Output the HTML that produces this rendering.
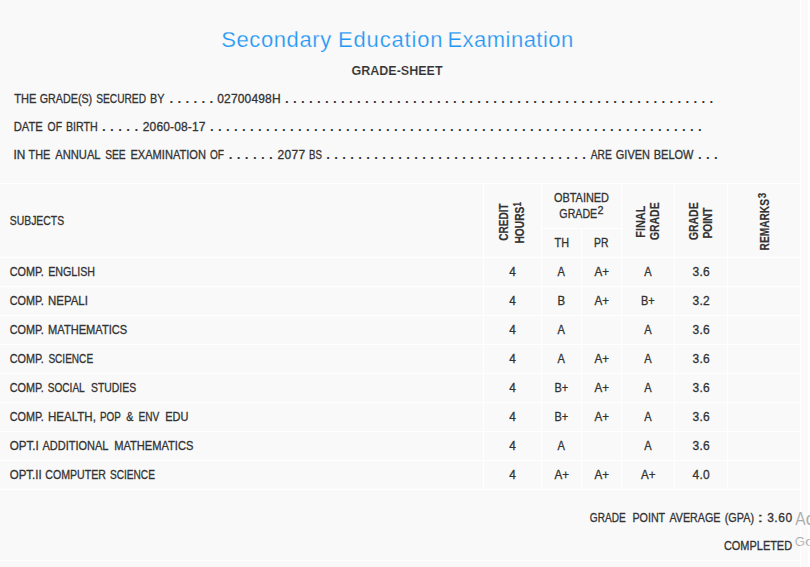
<!DOCTYPE html>
<html lang="en"><head><meta charset="utf-8"><title>Grade-Sheet</title>
<style>
html,body{margin:0;padding:0;}
body{width:810px;height:567px;overflow:hidden;position:relative;background:#f9f9f9;font-family:"Liberation Sans", sans-serif;}
.side{position:absolute;left:801px;top:0;width:7px;height:567px;background:#fafafa;}
.edge{position:absolute;left:808px;top:0;width:2px;height:567px;background:#ffffff;}
.l{position:absolute;}
.t{position:absolute;left:0;top:0;line-height:1;white-space:pre;transform-origin:0 0;word-spacing:0.6px;}
.t sup{font-size:85%;vertical-align:baseline;position:relative;top:-0.37em;line-height:0;}
</style></head><body>
<div class="side"></div><div class="edge"></div>
<div class="l" style="left:0px;top:183px;width:800px;height:1px;background:#ffffff"></div>
<div class="l" style="left:0px;top:257px;width:800px;height:1px;background:#ffffff"></div>
<div class="l" style="left:0px;top:286px;width:800px;height:1px;background:#ffffff"></div>
<div class="l" style="left:0px;top:315px;width:800px;height:1px;background:#ffffff"></div>
<div class="l" style="left:0px;top:344px;width:800px;height:1px;background:#ffffff"></div>
<div class="l" style="left:0px;top:373px;width:800px;height:1px;background:#ffffff"></div>
<div class="l" style="left:0px;top:402px;width:800px;height:1px;background:#ffffff"></div>
<div class="l" style="left:0px;top:431px;width:800px;height:1px;background:#ffffff"></div>
<div class="l" style="left:0px;top:460px;width:800px;height:1px;background:#ffffff"></div>
<div class="l" style="left:0px;top:489px;width:800px;height:1px;background:#ffffff"></div>
<div class="l" style="left:542px;top:228px;width:79px;height:1px;background:#ffffff"></div>
<div class="l" style="left:483px;top:183px;width:1px;height:307px;background:#ffffff"></div>
<div class="l" style="left:541px;top:183px;width:1px;height:307px;background:#ffffff"></div>
<div class="l" style="left:621px;top:183px;width:1px;height:307px;background:#ffffff"></div>
<div class="l" style="left:674px;top:183px;width:1px;height:307px;background:#ffffff"></div>
<div class="l" style="left:727px;top:183px;width:1px;height:307px;background:#ffffff"></div>
<div class="l" style="left:581px;top:228px;width:1px;height:262px;background:#ffffff"></div>
<div class="l" style="left:800px;top:0px;width:1px;height:567px;background:#ffffff"></div>
<div class="l" style="left:0px;top:560px;width:800px;height:1px;background:#ffffff"></div>
<span class="t" style="font-size:22px;font-weight:400;color:#2196f3;transform:translate(221.15px,28.80px) scaleX(1.0000);-webkit-text-stroke:0.25px #f9f9f9;letter-spacing:0.619px;">Secondary</span>
<span class="t" style="font-size:22px;font-weight:400;color:#2196f3;transform:translate(338.00px,28.80px) scaleX(1.0000);-webkit-text-stroke:0.25px #f9f9f9;letter-spacing:0.844px;">Education</span>
<span class="t" style="font-size:22px;font-weight:400;color:#2196f3;transform:translate(447.40px,28.80px) scaleX(1.0000);-webkit-text-stroke:0.25px #f9f9f9;letter-spacing:0.480px;">Examination</span>
<span class="t" style="font-size:13px;font-weight:700;color:#333333;transform:translate(351.48px,63.80px) scaleX(0.9632);-webkit-text-stroke:0.12px #f9f9f9;">GRADE-SHEET</span>
<span class="t" style="font-size:12px;font-weight:400;color:#333333;transform:translate(14.20px,92.80px) scaleX(0.9221);-webkit-text-stroke:0.3px #333333;">THE</span>
<span class="t" style="font-size:12px;font-weight:400;color:#333333;transform:translate(39.75px,92.80px) scaleX(0.8935);-webkit-text-stroke:0.3px #333333;">GRADE(S)</span>
<span class="t" style="font-size:12px;font-weight:400;color:#333333;transform:translate(96.28px,92.80px) scaleX(0.8468);-webkit-text-stroke:0.3px #333333;">SECURED</span>
<span class="t" style="font-size:12px;font-weight:400;color:#333333;transform:translate(149.92px,92.80px) scaleX(0.9049);-webkit-text-stroke:0.3px #333333;">BY</span>
<span class="t" style="font-size:12.5px;font-weight:700;color:#333333;transform:translate(169.50px,92.80px) scaleX(1.0633);">. . . . . .</span>
<span class="t" style="font-size:12px;font-weight:400;color:#333333;transform:translate(217.25px,92.80px) scaleX(1.0000);-webkit-text-stroke:0.3px #333333;letter-spacing:0.163px;">02700498H</span>
<span class="t" style="font-size:12.5px;font-weight:700;color:#333333;transform:translate(284.90px,92.80px) scaleX(1.0616);">. . . . . . . . . . . . . . . . . . . . . . . . . . . . . . . . . . . . . . . . . . . . . . . . . . . . . .</span>
<span class="t" style="font-size:12px;font-weight:400;color:#333333;transform:translate(13.70px,121.00px) scaleX(0.9333);-webkit-text-stroke:0.3px #333333;">DATE</span>
<span class="t" style="font-size:12px;font-weight:400;color:#333333;transform:translate(47.57px,121.00px) scaleX(0.8635);-webkit-text-stroke:0.3px #333333;">OF</span>
<span class="t" style="font-size:12px;font-weight:400;color:#333333;transform:translate(65.93px,121.00px) scaleX(0.8905);-webkit-text-stroke:0.3px #333333;">BIRTH</span>
<span class="t" style="font-size:12.5px;font-weight:700;color:#333333;transform:translate(101.89px,121.00px) scaleX(1.0813);">. . . . .</span>
<span class="t" style="font-size:12px;font-weight:400;color:#333333;transform:translate(142.80px,121.00px) scaleX(1.0000);-webkit-text-stroke:0.3px #333333;letter-spacing:0.133px;">2060-08-17</span>
<span class="t" style="font-size:12.5px;font-weight:700;color:#333333;transform:translate(209.90px,121.00px) scaleX(1.0605);">. . . . . . . . . . . . . . . . . . . . . . . . . . . . . . . . . . . . . . . . . . . . . . . . . . . . . . . . . . . . . .</span>
<span class="t" style="font-size:12px;font-weight:400;color:#333333;transform:translate(13.41px,148.80px) scaleX(0.9854);-webkit-text-stroke:0.3px #333333;">IN</span>
<span class="t" style="font-size:12px;font-weight:400;color:#333333;transform:translate(28.50px,148.80px) scaleX(0.9053);-webkit-text-stroke:0.3px #333333;">THE</span>
<span class="t" style="font-size:12px;font-weight:400;color:#333333;transform:translate(55.20px,148.80px) scaleX(0.9320);-webkit-text-stroke:0.3px #333333;">ANNUAL</span>
<span class="t" style="font-size:12px;font-weight:400;color:#333333;transform:translate(105.17px,148.80px) scaleX(0.8516);-webkit-text-stroke:0.3px #333333;">SEE</span>
<span class="t" style="font-size:12px;font-weight:400;color:#333333;transform:translate(130.41px,148.80px) scaleX(0.9234);-webkit-text-stroke:0.3px #333333;">EXAMINATION</span>
<span class="t" style="font-size:12px;font-weight:400;color:#333333;transform:translate(209.98px,148.80px) scaleX(0.8381);-webkit-text-stroke:0.3px #333333;">OF</span>
<span class="t" style="font-size:12.5px;font-weight:700;color:#333333;transform:translate(228.70px,148.80px) scaleX(1.0709);">. . . . . .</span>
<span class="t" style="font-size:12px;font-weight:400;color:#333333;transform:translate(277.50px,148.80px) scaleX(1.0000);-webkit-text-stroke:0.3px #333333;letter-spacing:0.350px;">2077</span>
<span class="t" style="font-size:12px;font-weight:400;color:#333333;transform:translate(309.00px,148.80px) scaleX(0.8067);-webkit-text-stroke:0.3px #333333;">BS</span>
<span class="t" style="font-size:12.5px;font-weight:700;color:#333333;transform:translate(326.20px,148.80px) scaleX(1.0606);">. . . . . . . . . . . . . . . . . . . . . . . . . . . . . . . . .</span>
<span class="t" style="font-size:12px;font-weight:400;color:#333333;transform:translate(590.70px,148.80px) scaleX(0.8536);-webkit-text-stroke:0.3px #333333;">ARE</span>
<span class="t" style="font-size:12px;font-weight:400;color:#333333;transform:translate(615.84px,148.80px) scaleX(0.9139);-webkit-text-stroke:0.3px #333333;">GIVEN</span>
<span class="t" style="font-size:12px;font-weight:400;color:#333333;transform:translate(653.71px,148.80px) scaleX(0.9170);-webkit-text-stroke:0.3px #333333;">BELOW</span>
<span class="t" style="font-size:12.5px;font-weight:700;color:#333333;transform:translate(697.90px,148.80px) scaleX(1.0647);">. . .</span>
<span class="t" style="font-size:12px;font-weight:400;color:#333333;transform:translate(9.77px,214.80px) scaleX(0.8664);-webkit-text-stroke:0.3px #333333;">SUBJECTS</span>
<span class="t" style="font-size:12px;font-weight:400;color:#333333;transform:translate(553.94px,191.90px) scaleX(0.9109);-webkit-text-stroke:0.3px #333333;">OBTAINED</span>
<span class="t" style="font-size:12px;font-weight:400;color:#333333;transform:translate(559.36px,208.00px) scaleX(0.8862);-webkit-text-stroke:0.3px #333333;">GRADE</span>
<span class="t" style="font-size:10.2px;font-weight:400;color:#333333;transform:translate(597.44px,206.30px) scaleX(1.0600);-webkit-text-stroke:0.3px #333333;">2</span>
<span class="t" style="font-size:12px;font-weight:400;color:#333333;transform:translate(554.50px,236.80px) scaleX(0.9049);-webkit-text-stroke:0.3px #333333;">TH</span>
<span class="t" style="font-size:12px;font-weight:400;color:#333333;transform:translate(594.05px,236.80px) scaleX(0.8645);-webkit-text-stroke:0.3px #333333;">PR</span>
<span class="t" style="font-size:12.5px;font-weight:700;color:#333333;transform:translate(498.10px,240.70px) rotate(-90deg) scaleX(0.8043);-webkit-text-stroke:0.18px #333333;">CREDIT</span>
<span class="t" style="font-size:12.5px;font-weight:700;color:#333333;transform:translate(514.10px,243.62px) rotate(-90deg) scaleX(0.8205);-webkit-text-stroke:0.18px #333333;">HOURS</span>
<span class="t" style="font-size:10.2px;font-weight:700;color:#333333;transform:translate(513.10px,206.39px) rotate(-90deg) scaleX(0.7800);-webkit-text-stroke:0.18px #333333;">1</span>
<span class="t" style="font-size:12.5px;font-weight:700;color:#333333;transform:translate(635.10px,237.65px) rotate(-90deg) scaleX(0.8671);-webkit-text-stroke:0.18px #333333;">FINAL</span>
<span class="t" style="font-size:12.5px;font-weight:700;color:#333333;transform:translate(649.30px,240.12px) rotate(-90deg) scaleX(0.8362);-webkit-text-stroke:0.18px #333333;">GRADE</span>
<span class="t" style="font-size:12.5px;font-weight:700;color:#333333;transform:translate(688.00px,240.12px) rotate(-90deg) scaleX(0.8362);-webkit-text-stroke:0.18px #333333;">GRADE</span>
<span class="t" style="font-size:12.5px;font-weight:700;color:#333333;transform:translate(702.30px,238.61px) rotate(-90deg) scaleX(0.8160);-webkit-text-stroke:0.18px #333333;">POINT</span>
<span class="t" style="font-size:12.5px;font-weight:700;color:#333333;transform:translate(759.10px,250.41px) rotate(-90deg) scaleX(0.8129);-webkit-text-stroke:0.18px #333333;">REMARKS</span>
<span class="t" style="font-size:10.2px;font-weight:700;color:#333333;transform:translate(758.30px,198.29px) rotate(-90deg) scaleX(0.9619);-webkit-text-stroke:0.18px #333333;">3</span>
<span class="t" style="font-size:12px;font-weight:400;color:#333333;transform:translate(9.75px,266.00px) scaleX(0.9021);-webkit-text-stroke:0.3px #333333;">COMP.</span>
<span class="t" style="font-size:12px;font-weight:400;color:#333333;transform:translate(48.13px,266.00px) scaleX(0.8898);-webkit-text-stroke:0.3px #333333;">ENGLISH</span>
<span class="t" style="font-size:12px;font-weight:400;color:#333333;transform:translate(509.30px,266.00px) scaleX(0.9846);-webkit-text-stroke:0.3px #333333;">4</span>
<span class="t" style="font-size:12px;font-weight:400;color:#333333;transform:translate(557.60px,266.00px) scaleX(0.9212);-webkit-text-stroke:0.3px #333333;">A</span>
<span class="t" style="font-size:12px;font-weight:400;color:#333333;transform:translate(594.40px,266.00px) scaleX(0.9655);-webkit-text-stroke:0.3px #333333;">A+</span>
<span class="t" style="font-size:12px;font-weight:400;color:#333333;transform:translate(644.20px,266.00px) scaleX(0.9212);-webkit-text-stroke:0.3px #333333;">A</span>
<span class="t" style="font-size:12px;font-weight:400;color:#333333;transform:translate(692.40px,266.00px) scaleX(1.0000);-webkit-text-stroke:0.3px #333333;letter-spacing:0.350px;">3.6</span>
<span class="t" style="font-size:12px;font-weight:400;color:#333333;transform:translate(9.75px,295.00px) scaleX(0.9021);-webkit-text-stroke:0.3px #333333;">COMP.</span>
<span class="t" style="font-size:12px;font-weight:400;color:#333333;transform:translate(48.09px,295.00px) scaleX(0.9500);-webkit-text-stroke:0.3px #333333;">NEPALI</span>
<span class="t" style="font-size:12px;font-weight:400;color:#333333;transform:translate(509.30px,295.00px) scaleX(0.9846);-webkit-text-stroke:0.3px #333333;">4</span>
<span class="t" style="font-size:12px;font-weight:400;color:#333333;transform:translate(557.49px,295.00px) scaleX(0.9481);-webkit-text-stroke:0.3px #333333;">B</span>
<span class="t" style="font-size:12px;font-weight:400;color:#333333;transform:translate(594.40px,295.00px) scaleX(0.9655);-webkit-text-stroke:0.3px #333333;">A+</span>
<span class="t" style="font-size:12px;font-weight:400;color:#333333;transform:translate(641.01px,295.00px) scaleX(0.9164);-webkit-text-stroke:0.3px #333333;">B+</span>
<span class="t" style="font-size:12px;font-weight:400;color:#333333;transform:translate(692.40px,295.00px) scaleX(1.0000);-webkit-text-stroke:0.3px #333333;letter-spacing:0.350px;">3.2</span>
<span class="t" style="font-size:12px;font-weight:400;color:#333333;transform:translate(9.75px,324.00px) scaleX(0.9021);-webkit-text-stroke:0.3px #333333;">COMP.</span>
<span class="t" style="font-size:12px;font-weight:400;color:#333333;transform:translate(48.11px,324.00px) scaleX(0.9243);-webkit-text-stroke:0.3px #333333;">MATHEMATICS</span>
<span class="t" style="font-size:12px;font-weight:400;color:#333333;transform:translate(509.30px,324.00px) scaleX(0.9846);-webkit-text-stroke:0.3px #333333;">4</span>
<span class="t" style="font-size:12px;font-weight:400;color:#333333;transform:translate(557.60px,324.00px) scaleX(0.9212);-webkit-text-stroke:0.3px #333333;">A</span>
<span class="t" style="font-size:12px;font-weight:400;color:#333333;transform:translate(644.20px,324.00px) scaleX(0.9212);-webkit-text-stroke:0.3px #333333;">A</span>
<span class="t" style="font-size:12px;font-weight:400;color:#333333;transform:translate(692.40px,324.00px) scaleX(1.0000);-webkit-text-stroke:0.3px #333333;letter-spacing:0.350px;">3.6</span>
<span class="t" style="font-size:12px;font-weight:400;color:#333333;transform:translate(9.75px,353.00px) scaleX(0.9021);-webkit-text-stroke:0.3px #333333;">COMP.</span>
<span class="t" style="font-size:12px;font-weight:400;color:#333333;transform:translate(48.38px,353.00px) scaleX(0.8381);-webkit-text-stroke:0.3px #333333;">SCIENCE</span>
<span class="t" style="font-size:12px;font-weight:400;color:#333333;transform:translate(509.30px,353.00px) scaleX(0.9846);-webkit-text-stroke:0.3px #333333;">4</span>
<span class="t" style="font-size:12px;font-weight:400;color:#333333;transform:translate(557.60px,353.00px) scaleX(0.9212);-webkit-text-stroke:0.3px #333333;">A</span>
<span class="t" style="font-size:12px;font-weight:400;color:#333333;transform:translate(594.40px,353.00px) scaleX(0.9655);-webkit-text-stroke:0.3px #333333;">A+</span>
<span class="t" style="font-size:12px;font-weight:400;color:#333333;transform:translate(644.20px,353.00px) scaleX(0.9212);-webkit-text-stroke:0.3px #333333;">A</span>
<span class="t" style="font-size:12px;font-weight:400;color:#333333;transform:translate(692.40px,353.00px) scaleX(1.0000);-webkit-text-stroke:0.3px #333333;letter-spacing:0.350px;">3.6</span>
<span class="t" style="font-size:12px;font-weight:400;color:#333333;transform:translate(9.75px,382.00px) scaleX(0.9021);-webkit-text-stroke:0.3px #333333;">COMP.</span>
<span class="t" style="font-size:12px;font-weight:400;color:#333333;transform:translate(47.78px,382.00px) scaleX(0.8393);-webkit-text-stroke:0.3px #333333;">SOCIAL</span>
<span class="t" style="font-size:12px;font-weight:400;color:#333333;transform:translate(90.97px,382.00px) scaleX(0.8683);-webkit-text-stroke:0.3px #333333;">STUDIES</span>
<span class="t" style="font-size:12px;font-weight:400;color:#333333;transform:translate(509.30px,382.00px) scaleX(0.9846);-webkit-text-stroke:0.3px #333333;">4</span>
<span class="t" style="font-size:12px;font-weight:400;color:#333333;transform:translate(554.41px,382.00px) scaleX(0.9164);-webkit-text-stroke:0.3px #333333;">B+</span>
<span class="t" style="font-size:12px;font-weight:400;color:#333333;transform:translate(594.40px,382.00px) scaleX(0.9655);-webkit-text-stroke:0.3px #333333;">A+</span>
<span class="t" style="font-size:12px;font-weight:400;color:#333333;transform:translate(644.20px,382.00px) scaleX(0.9212);-webkit-text-stroke:0.3px #333333;">A</span>
<span class="t" style="font-size:12px;font-weight:400;color:#333333;transform:translate(692.40px,382.00px) scaleX(1.0000);-webkit-text-stroke:0.3px #333333;letter-spacing:0.350px;">3.6</span>
<span class="t" style="font-size:12px;font-weight:400;color:#333333;transform:translate(9.75px,411.00px) scaleX(0.9021);-webkit-text-stroke:0.3px #333333;">COMP.</span>
<span class="t" style="font-size:12px;font-weight:400;color:#333333;transform:translate(47.98px,411.00px) scaleX(0.9617);-webkit-text-stroke:0.3px #333333;">HEALTH,</span>
<span class="t" style="font-size:12px;font-weight:400;color:#333333;transform:translate(99.98px,411.00px) scaleX(0.8208);-webkit-text-stroke:0.3px #333333;">POP</span>
<span class="t" style="font-size:12px;font-weight:400;color:#333333;transform:translate(126.28px,411.00px) scaleX(0.8903);-webkit-text-stroke:0.3px #333333;">&amp;</span>
<span class="t" style="font-size:12px;font-weight:400;color:#333333;transform:translate(138.47px,411.00px) scaleX(0.8417);-webkit-text-stroke:0.3px #333333;">ENV</span>
<span class="t" style="font-size:12px;font-weight:400;color:#333333;transform:translate(165.31px,411.00px) scaleX(0.9137);-webkit-text-stroke:0.3px #333333;">EDU</span>
<span class="t" style="font-size:12px;font-weight:400;color:#333333;transform:translate(509.30px,411.00px) scaleX(0.9846);-webkit-text-stroke:0.3px #333333;">4</span>
<span class="t" style="font-size:12px;font-weight:400;color:#333333;transform:translate(554.41px,411.00px) scaleX(0.9164);-webkit-text-stroke:0.3px #333333;">B+</span>
<span class="t" style="font-size:12px;font-weight:400;color:#333333;transform:translate(594.40px,411.00px) scaleX(0.9655);-webkit-text-stroke:0.3px #333333;">A+</span>
<span class="t" style="font-size:12px;font-weight:400;color:#333333;transform:translate(644.20px,411.00px) scaleX(0.9212);-webkit-text-stroke:0.3px #333333;">A</span>
<span class="t" style="font-size:12px;font-weight:400;color:#333333;transform:translate(692.40px,411.00px) scaleX(1.0000);-webkit-text-stroke:0.3px #333333;letter-spacing:0.350px;">3.6</span>
<span class="t" style="font-size:12px;font-weight:400;color:#333333;transform:translate(9.72px,440.00px) scaleX(0.9684);-webkit-text-stroke:0.3px #333333;">OPT.I</span>
<span class="t" style="font-size:12px;font-weight:400;color:#333333;transform:translate(42.50px,440.00px) scaleX(0.9157);-webkit-text-stroke:0.3px #333333;">ADDITIONAL</span>
<span class="t" style="font-size:12px;font-weight:400;color:#333333;transform:translate(114.21px,440.00px) scaleX(0.9254);-webkit-text-stroke:0.3px #333333;">MATHEMATICS</span>
<span class="t" style="font-size:12px;font-weight:400;color:#333333;transform:translate(509.30px,440.00px) scaleX(0.9846);-webkit-text-stroke:0.3px #333333;">4</span>
<span class="t" style="font-size:12px;font-weight:400;color:#333333;transform:translate(557.60px,440.00px) scaleX(0.9212);-webkit-text-stroke:0.3px #333333;">A</span>
<span class="t" style="font-size:12px;font-weight:400;color:#333333;transform:translate(644.20px,440.00px) scaleX(0.9212);-webkit-text-stroke:0.3px #333333;">A</span>
<span class="t" style="font-size:12px;font-weight:400;color:#333333;transform:translate(692.40px,440.00px) scaleX(1.0000);-webkit-text-stroke:0.3px #333333;letter-spacing:0.350px;">3.6</span>
<span class="t" style="font-size:12px;font-weight:400;color:#333333;transform:translate(9.72px,469.00px) scaleX(0.9562);-webkit-text-stroke:0.3px #333333;">OPT.II</span>
<span class="t" style="font-size:12px;font-weight:400;color:#333333;transform:translate(45.26px,469.00px) scaleX(0.8827);-webkit-text-stroke:0.3px #333333;">COMPUTER</span>
<span class="t" style="font-size:12px;font-weight:400;color:#333333;transform:translate(109.98px,469.00px) scaleX(0.8419);-webkit-text-stroke:0.3px #333333;">SCIENCE</span>
<span class="t" style="font-size:12px;font-weight:400;color:#333333;transform:translate(509.30px,469.00px) scaleX(0.9846);-webkit-text-stroke:0.3px #333333;">4</span>
<span class="t" style="font-size:12px;font-weight:400;color:#333333;transform:translate(554.40px,469.00px) scaleX(0.9655);-webkit-text-stroke:0.3px #333333;">A+</span>
<span class="t" style="font-size:12px;font-weight:400;color:#333333;transform:translate(594.40px,469.00px) scaleX(0.9655);-webkit-text-stroke:0.3px #333333;">A+</span>
<span class="t" style="font-size:12px;font-weight:400;color:#333333;transform:translate(641.00px,469.00px) scaleX(0.9655);-webkit-text-stroke:0.3px #333333;">A+</span>
<span class="t" style="font-size:12px;font-weight:400;color:#333333;transform:translate(692.50px,469.00px) scaleX(1.0000);-webkit-text-stroke:0.3px #333333;letter-spacing:0.250px;">4.0</span>
<span class="t" style="font-size:12px;font-weight:400;color:#333333;transform:translate(589.78px,512.00px) scaleX(0.8407);-webkit-text-stroke:0.3px #333333;">GRADE</span>
<span class="t" style="font-size:12px;font-weight:400;color:#333333;transform:translate(632.43px,512.00px) scaleX(0.8923);-webkit-text-stroke:0.3px #333333;">POINT</span>
<span class="t" style="font-size:12px;font-weight:400;color:#333333;transform:translate(669.40px,512.00px) scaleX(0.8916);-webkit-text-stroke:0.3px #333333;">AVERAGE</span>
<span class="t" style="font-size:12px;font-weight:400;color:#333333;transform:translate(724.75px,512.00px) scaleX(0.9016);-webkit-text-stroke:0.3px #333333;">(GPA)</span>
<span class="t" style="font-size:12px;font-weight:400;color:#333333;transform:translate(757.77px,512.00px) scaleX(1.5333);-webkit-text-stroke:0.3px #333333;">:</span>
<span class="t" style="font-size:12px;font-weight:400;color:#333333;transform:translate(767.15px,512.00px) scaleX(1.0000);-webkit-text-stroke:0.3px #333333;letter-spacing:0.517px;">3.60</span>
<span class="t" style="font-size:12px;font-weight:400;color:#333333;transform:translate(723.94px,540.10px) scaleX(0.9125);-webkit-text-stroke:0.3px #333333;">COMPLETED</span>
<span class="t" style="font-size:18.7px;font-weight:400;color:#a8a8a8;transform:translate(795.19px,509.50px) scaleX(0.8333);-webkit-text-stroke:0.18px #f9f9f9;">A</span>
<span class="t" style="font-size:18.7px;font-weight:400;color:#a8a8a8;transform:translate(805.47px,509.50px) scaleX(1.0323);-webkit-text-stroke:0.18px #f9f9f9;">c</span>
<span class="t" style="font-size:13.5px;font-weight:400;color:#a8a8a8;transform:translate(794.67px,534.70px) scaleX(0.9714);-webkit-text-stroke:0.18px #f9f9f9;">G</span>
<span class="t" style="font-size:13.5px;font-weight:400;color:#a8a8a8;transform:translate(805.06px,534.70px) scaleX(1.2500);-webkit-text-stroke:0.18px #f9f9f9;">o</span>
</body></html>
